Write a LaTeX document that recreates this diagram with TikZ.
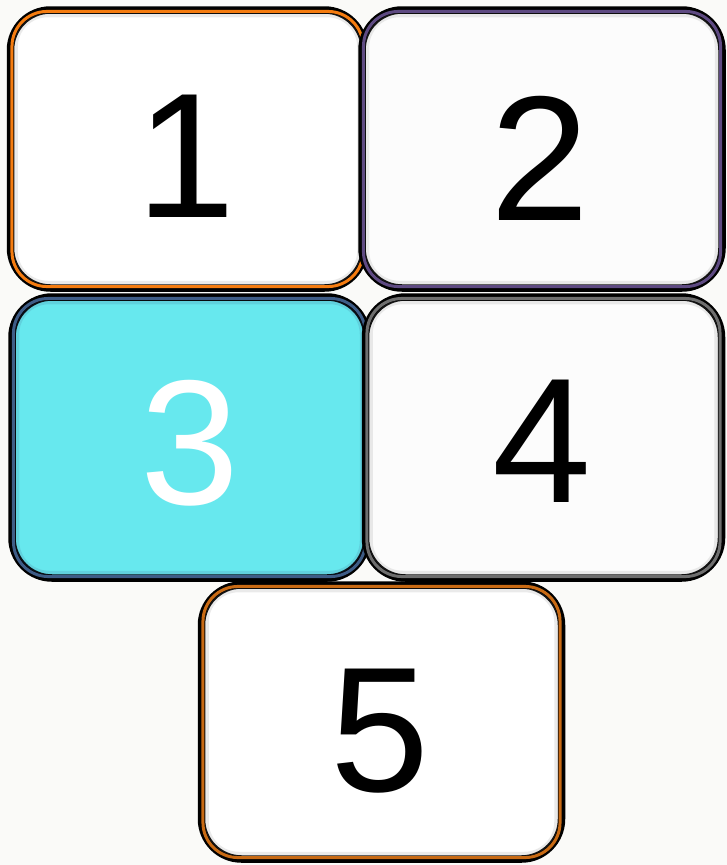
\documentclass[tikz,border=0pt]{standalone}
\usepackage{fontspec}
\setmainfont{Liberation Sans}
\definecolor{bg}{HTML}{FAFAF8}
\definecolor{cyanfill}{HTML}{67E8EE}
\definecolor{orng}{HTML}{F57C10}
\definecolor{purp}{HTML}{5E4A82}
\definecolor{navy}{HTML}{3E5C86}
\definecolor{gry}{HTML}{6E6E6E}
\definecolor{brwn}{HTML}{C86A14}
\tikzset{
  box/.style={draw=black, line width=7.5pt, rounded corners=40pt, fill=white,
    inner sep=0pt},
  rim/.style={line width=3pt, rounded corners=35pt},
  glow/.style={line width=4pt, rounded corners=32pt, opacity=0.16},
  digit/.style={font=\fontsize{178}{178}\selectfont},
}
\begin{document}
\begin{tikzpicture}[x=1pt,y=-1pt]
\fill[bg] (0,0) rectangle (727,865);
\useasboundingbox (0,0) rectangle (727,865);
% box 1
\node[box, minimum width=354pt, minimum height=278pt] (b1) at (187.5,149) {};
\draw[glow, gray] ([shift={(9,9)}]b1.north west) rectangle ([shift={(-9,-9)}]b1.south east);
\draw[rim, orng] ([shift={(5.2,5.2)}]b1.north west) rectangle ([shift={(-5.2,-5.2)}]b1.south east);
\node[digit] (t1) at (186,156) {1};
% box 2
\node[box, fill=white!99!black, minimum width=360pt, minimum height=278pt] (b2) at (542,149) {};
\draw[glow, gray] ([shift={(9,9)}]b2.north west) rectangle ([shift={(-9,-9)}]b2.south east);
\draw[rim, purp] ([shift={(5.2,5.2)}]b2.north west) rectangle ([shift={(-5.2,-5.2)}]b2.south east);
\node[digit] (t2) at (540,158) {2};
% box 3
\node[box, fill=cyanfill, minimum width=355pt, minimum height=281pt] (b3) at (189.5,437.5) {};
\draw[glow, navy] ([shift={(9,9)}]b3.north west) rectangle ([shift={(-9,-9)}]b3.south east);
\draw[rim, navy] ([shift={(5.2,5.2)}]b3.north west) rectangle ([shift={(-5.2,-5.2)}]b3.south east);
\node[digit, text=white] (t3) at (190,443) {3};
% box 4
\node[box, fill=white!99!black, minimum width=356pt, minimum height=281pt] (b4) at (543.5,437.5) {};
\draw[glow, gray] ([shift={(9,9)}]b4.north west) rectangle ([shift={(-9,-9)}]b4.south east);
\draw[rim, gry] ([shift={(5.2,5.2)}]b4.north west) rectangle ([shift={(-5.2,-5.2)}]b4.south east);
\node[digit] (t4) at (542,441) {4};
% box 5
\node[box, minimum width=360pt, minimum height=274pt] (b5) at (381.5,722) {};
\draw[glow, gray] ([shift={(9,9)}]b5.north west) rectangle ([shift={(-9,-9)}]b5.south east);
\draw[rim, brwn] ([shift={(5.2,5.2)}]b5.north west) rectangle ([shift={(-5.2,-5.2)}]b5.south east);
\node[digit] (t5) at (380,731) {5};
\end{tikzpicture}
\end{document}
